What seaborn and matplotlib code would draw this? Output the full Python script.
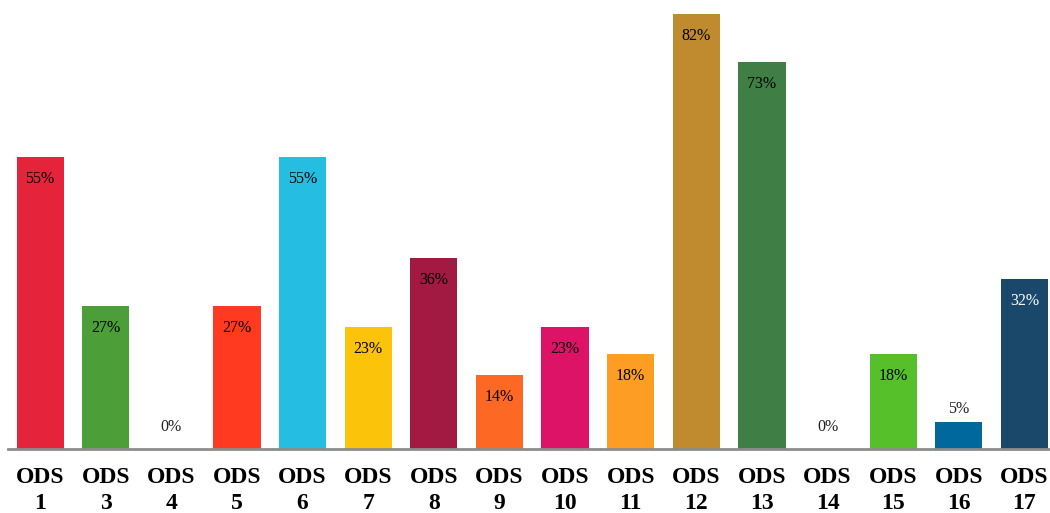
import matplotlib
matplotlib.use("Agg")
import matplotlib.pyplot as plt
import seaborn as sns
import pandas as pd

# data
ods = ["1", "3", "4", "5", "6", "7", "8", "9", "10", "11", "12", "13", "14", "15", "16", "17"]
values = [55, 27, 0, 27, 55, 23, 36, 14, 23, 18, 82, 73, 0, 18, 5, 32]
colors = ["#E5243B", "#4C9F38", "#C5192D", "#FF3A21", "#26BDE2", "#FCC30B", "#A21942", "#FD6925",
          "#DD1367", "#FD9D24", "#BF8B2E", "#3F7E44", "#0A97D9", "#56C02B", "#00689D", "#19486A"]
label_colors = ["black"] * 15 + ["white"]

sns.set_style("white")
plt.rcParams["font.family"] = ["Liberation Serif", "DejaVu Serif"]

df = pd.DataFrame({"ods": ["ODS\n" + o for o in ods], "value": values})

fig = plt.figure(figsize=(10.5, 5.13), dpi=100)
ax = fig.add_axes([8 / 1050, (513 - 449) / 513, 1 - 8 / 1050, (449 - 14) / 513])
sns.barplot(data=df, x="ods", y="value", hue="ods", palette=colors, legend=False,
            width=0.72, saturation=1, linewidth=0, ax=ax)

ax.set_ylim(0, 82)
ax.set_xlim(-0.49, 15.39)
for s in ["top", "right", "left"]:
    ax.spines[s].set_visible(False)
ax.spines["bottom"].set_color("#8c8c8c")
ax.spines["bottom"].set_linewidth(2)
ax.set_yticks([])
ax.set_xlabel("")
ax.set_ylabel("")
ax.tick_params(axis="x", length=0, pad=13)
for t in ax.get_xticklabels():
    t.set_fontweight("bold")
    t.set_fontsize(17)
    t.set_color("black")
    t.set_linespacing(1.3)

for patch, v, c in zip(ax.patches, values, label_colors):
    x = patch.get_x() + patch.get_width() / 2
    top = patch.get_height()
    if v >= 10:
        ax.annotate(f"{v}%", (x, top), xytext=(0, -16), textcoords="offset points",
                    ha="center", va="center", fontsize=11.5, color=c)
    else:
        off = 10 if v == 0 else 4
        ax.annotate(f"{v}%", (x, top), xytext=(0, off), textcoords="offset points",
                    ha="center", va="bottom", fontsize=11.5, color="#222222")

fig.savefig("out.png", dpi=100)
